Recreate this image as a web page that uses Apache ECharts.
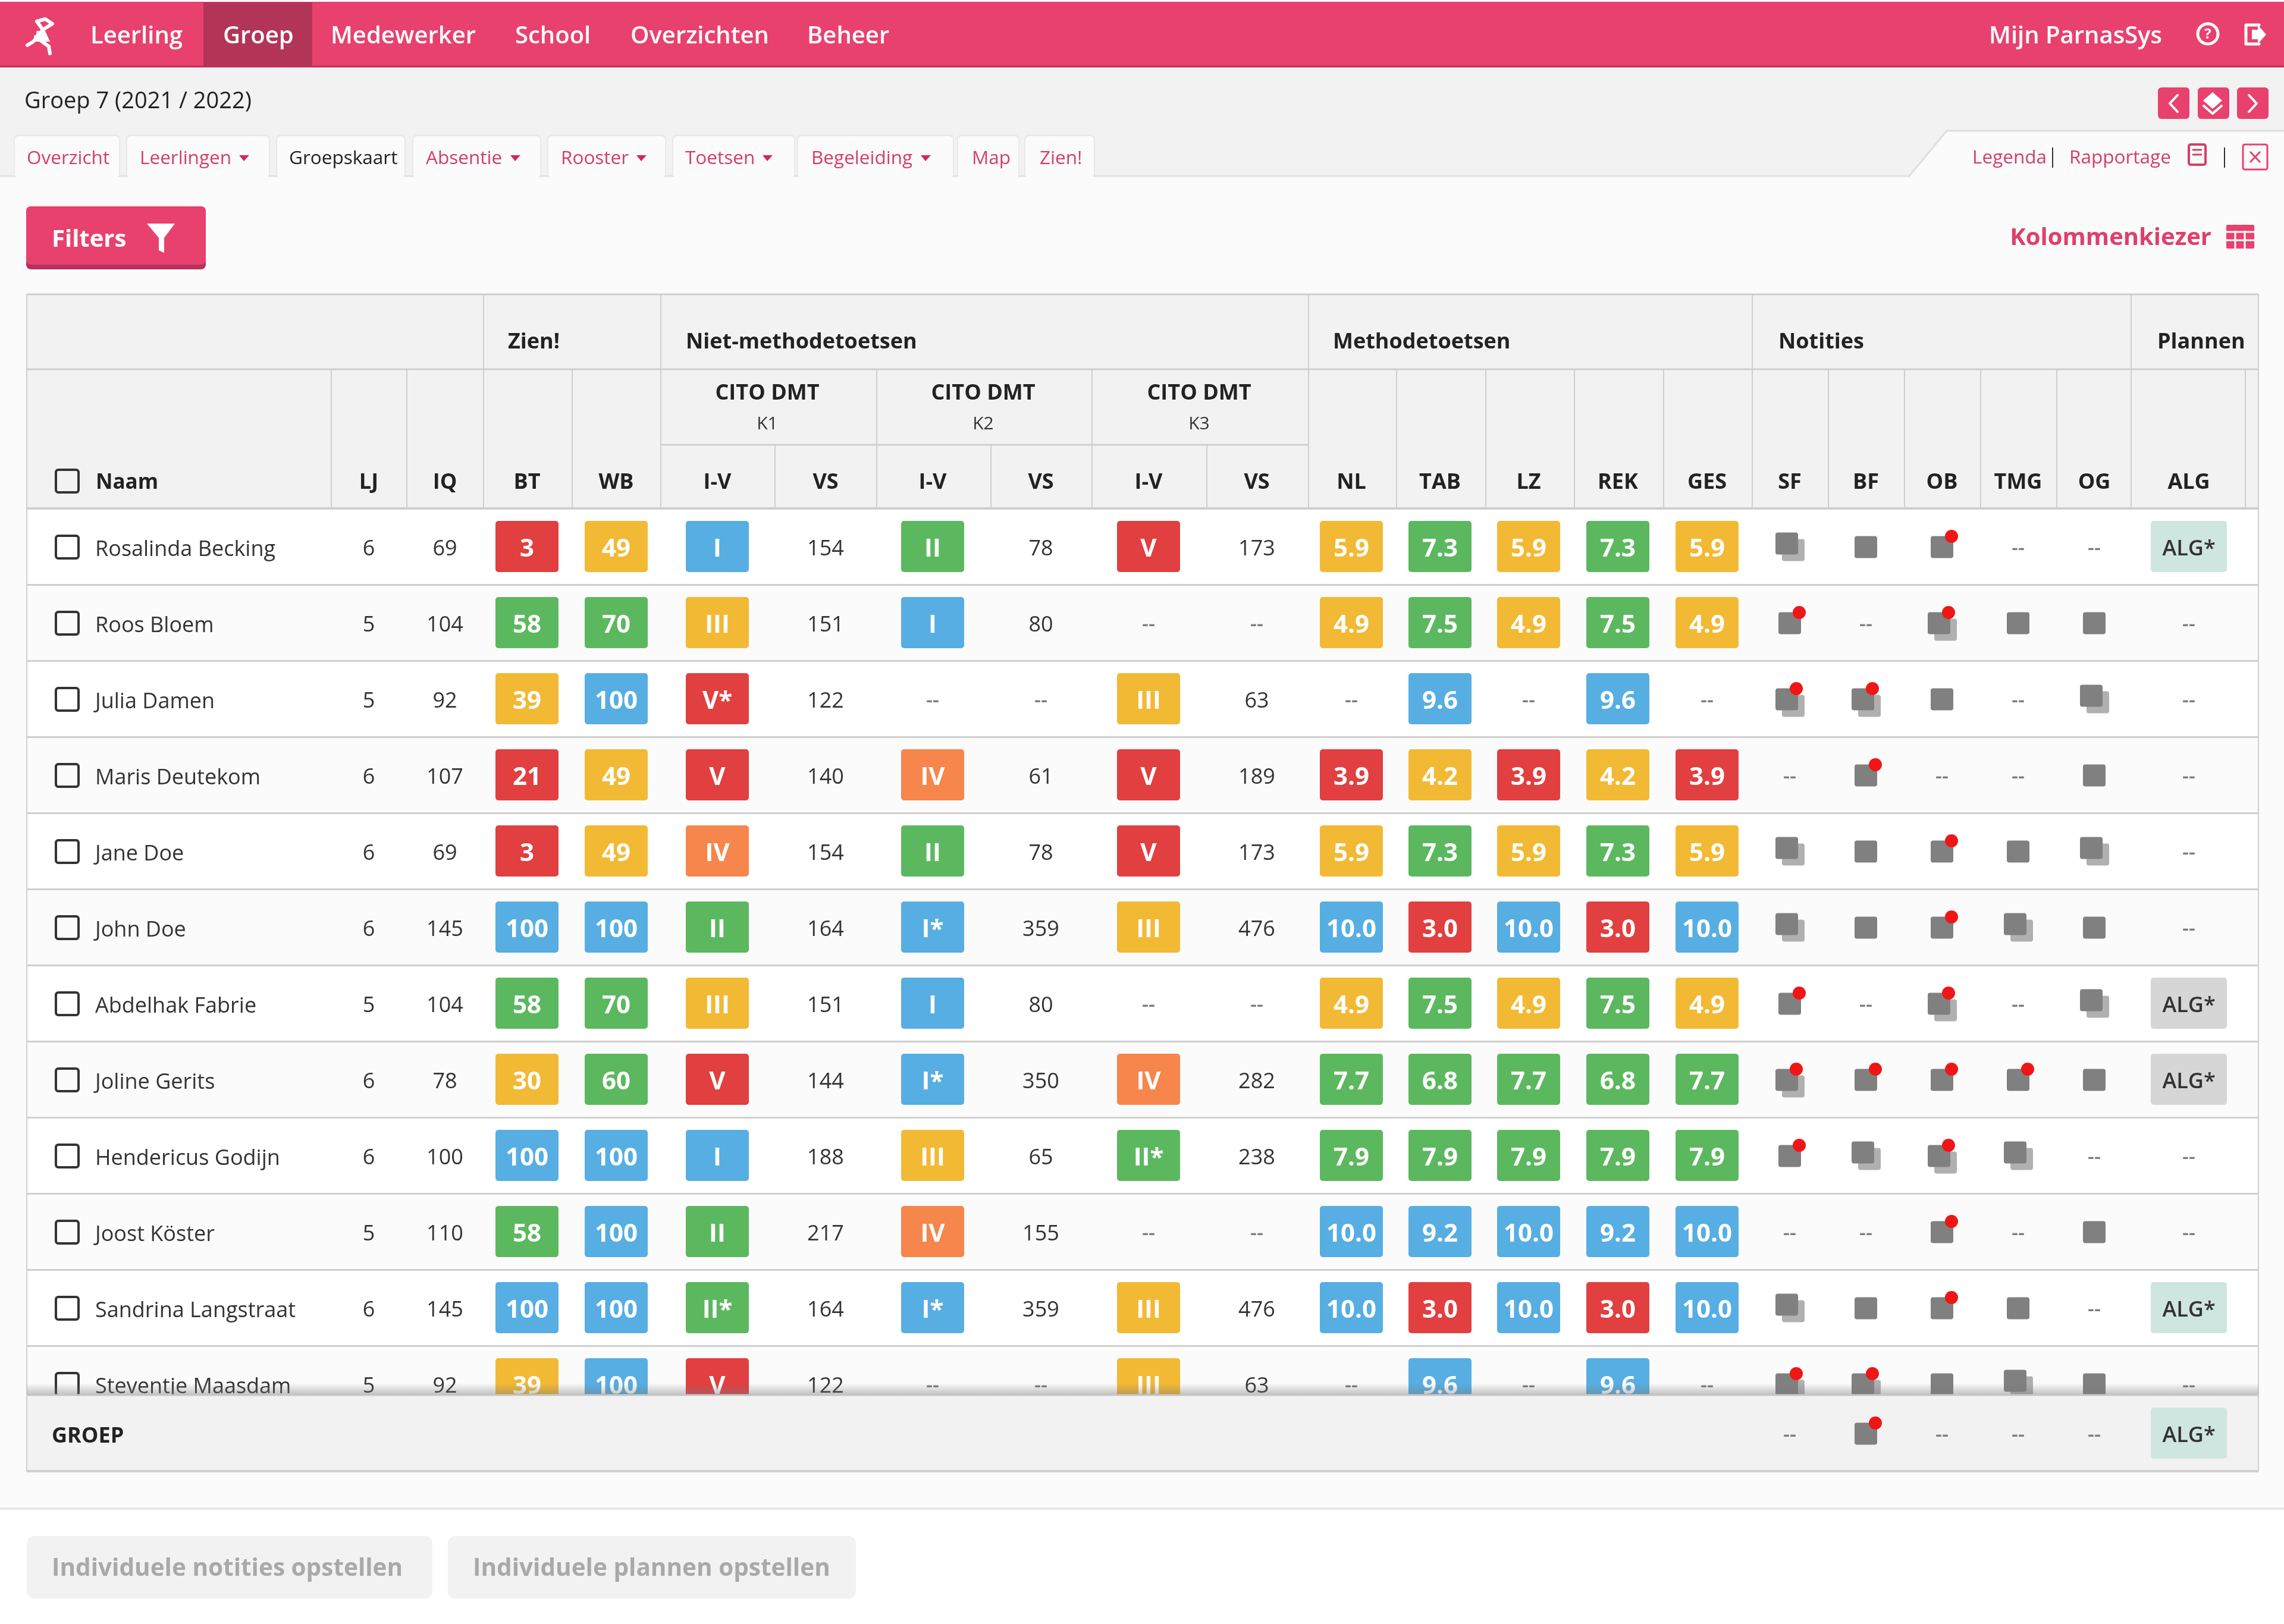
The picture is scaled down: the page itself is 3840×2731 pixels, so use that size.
<!DOCTYPE html>
<html><head><meta charset="utf-8"><title>Groepskaart</title>
<style>html,body{margin:0;padding:0;background:#fff}#c{width:3840px;height:2731px}</style>
<script src="https://cdn.jsdelivr.net/npm/echarts@6/dist/echarts.min.js"></script>
</head><body><div id="c"></div>
<script>
// ---------- DATA ----------
const names = ['Rosalinda Becking','Roos Bloem','Julia Damen','Maris Deutekom','Jane Doe','John Doe','Abdelhak Fabrie','Joline Gerits','Hendericus Godijn','Joost Köster','Sandrina Langstraat','Steventje Maasdam'];
const LJ  = [6,5,5,6,6,6,5,6,6,5,6,5];
const IQ  = [69,104,92,107,69,145,104,78,100,110,145,92];
const BT  = [3,58,39,21,3,100,58,30,100,58,100,39];
const WB  = [49,70,100,49,49,100,70,60,100,100,100,100];
const IV1 = ['I','III','V*','V','IV','II','III','V','I','II','II*','V'];
const VS1 = [154,151,122,140,154,164,151,144,188,217,164,122];
const IV2 = ['II','I','--','IV','II','I*','I','I*','III','IV','I*','--'];
const VS2 = [78,80,'--',61,78,359,80,350,65,155,359,'--'];
const IV3 = ['V','--','III','V','V','III','--','IV','II*','--','III','III'];
const VS3 = [173,'--',63,189,173,476,'--',282,238,'--',476,63];
const NL  = ['5.9','4.9','--','3.9','5.9','10.0','4.9','7.7','7.9','10.0','10.0','--'];
const TAB = ['7.3','7.5','9.6','4.2','7.3','3.0','7.5','6.8','7.9','9.2','3.0','9.6'];
const LZ  = ['5.9','4.9','--','3.9','5.9','10.0','4.9','7.7','7.9','10.0','10.0','--'];
const REK = ['7.3','7.5','9.6','4.2','7.3','3.0','7.5','6.8','7.9','9.2','3.0','9.6'];
const GES = ['5.9','4.9','--','3.9','5.9','10.0','4.9','7.7','7.9','10.0','10.0','--'];
// notes: - none, s single, d stacked, r single+flag, f stacked+flag
const SF  = ['d','r','f','-','d','d','r','f','r','-','d','f'];
const BF  = ['s','-','f','r','s','s','-','r','d','-','s','f'];
const OB  = ['r','f','s','-','r','r','f','r','f','r','r','s'];
const TMG = ['-','s','-','-','s','d','-','r','d','-','s','d'];
const OG  = ['-','s','d','s','d','s','d','s','-','s','-','s'];
const ALG = ['ALG*','--','--','--','--','--','ALG~','ALG~','--','--','ALG*','--'];
const footerLabel = ['GROEP'];
const footerNotes = {SF:'-',BF:'r',OB:'-',TMG:'-',OG:'-'};
const footerPlan = 'ALG*';

// ---------- LAYOUT / STYLE ----------
const FF = '"Open Sans","Noto Sans",sans-serif';
const PINK='#e8416e', PINKD='#b9305a', TXT='#333', LINE='#cfcfcf', HEAD='#f2f2f2', PAGE='#fbfbfb';
const center = {LJ:620,IQ:748,BT:886,WB:1036,IV1:1206,VS1:1388,IV2:1568,VS2:1750,IV3:1931,VS3:2113,NL:2272,TAB:2421,LZ:2570,REK:2720,GES:2870,SF:3009,BF:3137,OB:3265,TMG:3393,OG:3521,ALG:3680,CHECK:113};
const T={left:45,right:3797,top:495,tier2:621,tier3:748,rows:855,rowH:128,foot:2346,footEnd:2474};
const tone={red:'#e13f40',yellow:'#f2b934',green:'#5cb85f',blue:'#57aee2',orange:'#f6864b'};
const ivTone={I:tone.blue,II:tone.green,III:tone.yellow,IV:tone.orange,V:tone.red};
const scoreTone=v=> v<25?tone.red:v<50?tone.yellow:v<75?tone.green:tone.blue;
const gradeTone=v=> v<4?tone.red:v<6?tone.yellow:v<9?tone.green:tone.blue;

// ---------- CELLS ----------
const cells=[];
const add=(col,arr,kind,fn)=>arr.forEach((v,i)=>cells.push({x:center[col],y:i,v:String(v),kind:String(v)==='--'?'dash':kind,color:fn?fn(v):null}));
add('LJ',LJ,'num');add('IQ',IQ,'num');
add('BT',BT,'badge',scoreTone);add('WB',WB,'badge',scoreTone);
[[ 'IV1',IV1],['IV2',IV2],['IV3',IV3]].forEach(([c,a])=>add(c,a,'badge',v=>ivTone[String(v).replace('*','')]));
add('VS1',VS1,'num');add('VS2',VS2,'num');add('VS3',VS3,'num');
[['NL',NL],['TAB',TAB],['LZ',LZ],['REK',REK],['GES',GES]].forEach(([c,a])=>add(c,a,'badge',v=>gradeTone(parseFloat(v))));
[['SF',SF],['BF',BF],['OB',OB],['TMG',TMG],['OG',OG]].forEach(([c,a])=>a.forEach((v,i)=>cells.push({x:center[c],y:i,v,kind:'note'})));
ALG.forEach((v,i)=>cells.push({x:center.ALG,y:i,v,kind:v==='--'?'dash':'plan'}));
names.forEach((n,i)=>cells.push({x:center.CHECK,y:i,v:'',kind:'check'}));
const footCells=Object.keys(footerNotes).map(k=>({x:center[k],y:0,v:footerNotes[k],kind:'note'}));
footCells.push({x:center.ALG,y:0,v:footerPlan,kind:'plan'});

function txt(x,y,text,size,fill,weight){return {type:'text',style:{x,y:y+5,text,fontSize:size,fontFamily:FF,fontWeight:weight||400,fill,textAlign:'center',textVerticalAlign:'middle'}};}
function rr(x,y,w,h,r,fill,stroke,lw){return {type:'rect',shape:{x,y,width:w,height:h,r},style:stroke?{fill:'none',stroke,lineWidth:lw}:{fill}};}
const dash=p=>txt(p[0],p[1]-1,'--',34,'#7d7d7d',600);
function noteMarks(c,p){
  const k=[];const G='#808080',B='#b0b0b0',S=38,H=37;
  const box=(dx,dy,f)=>k.push(rr(p[0]+dx-S/2,p[1]+dy-H/2,S,H,4,f));
  if(c.v==='-'){k.push(dash(p));return k;}
  if(c.v==='s'||c.v==='r')box(0,1,G);
  if(c.v==='d'){box(6,6,B);box(-5,-5,G);}
  if(c.v==='f'){box(6,12,B);box(-5,1,G);}
  if(c.v==='r'||c.v==='f'){const dx=c.v==='r'?16:11;k.push({type:'circle',shape:{cx:p[0]+dx,cy:p[1]-17,r:11},style:{fill:'#f01616'}});}
  return k;
}
function drawCell(list){return function(params,api){
  const c=list[params.dataIndex];const p=api.coord([api.value(0),api.value(1)]);let ch=[];
  if(c.kind==='num')ch=[txt(p[0],p[1],c.v,36,TXT)];
  else if(c.kind==='dash')ch=[dash(p)];
  else if(c.kind==='badge')ch=[rr(p[0]-53,p[1]-43,106,86,5,c.color),txt(p[0],p[1],c.v,42,'#fff',700)];
  else if(c.kind==='plan')ch=[rr(p[0]-64,p[1]-43,128,86,5,c.v==='ALG*'?'#cfe5e0':'#d6d6d6'),txt(p[0],p[1],'ALG*',36,'#333',600)];
  else if(c.kind==='note')ch=noteMarks(c,p);
  else if(c.kind==='check')ch=[rr(p[0]-19,p[1]-18,38,38,4,null,'#333',4)];
  return {type:'group',children:ch};
};}

// ---------- PAGE CHROME ----------
const g=[];
const R=(x,y,w,h,fill,z,r)=>g.push({type:'rect',shape:{x,y,width:w,height:h,r:r||0},style:{fill},z:z||0,silent:true});
const L=(x1,y1,x2,y2,c,w,z)=>g.push({type:'line',shape:{x1,y1,x2,y2},style:{stroke:c,lineWidth:w||2},z:z||1,silent:true});
const Tx=(x,y,t,size,fill,weight,align,z)=>g.push({type:'text',style:{x,y:y+3,text:t,fontSize:size,fontFamily:FF,fontWeight:weight||400,fill,textAlign:align||'left',textVerticalAlign:'middle'},z:z||3,silent:true});
const Poly=(pts,fill,z)=>g.push({type:'polygon',shape:{points:pts},style:{fill},z:z||3,silent:true});
const PL=(pts,stroke,w,z)=>g.push({type:'polyline',shape:{points:pts},style:{stroke,lineWidth:w,fill:'none',lineCap:'round',lineJoin:'round'},z:z||3,silent:true});

R(0,0,3840,2731,'#ffffff',-20);
R(0,115,3840,182,HEAD,-19);
R(0,297,3840,2240,PAGE,-19);
L(0,2537,3840,2537,'#e6e6e6',4,-18);
// nav
R(0,3,3840,109,PINK,-10);L(0,112,3840,112,'#c32a57',3,-9);
R(342,4,183,107,'#b23558',-9);
[['Leerling',152],['Groep',375],['Medewerker',556],['School',866],['Overzichten',1060],['Beheer',1357]].forEach(a=>Tx(a[1],59,a[0],40,'#fff',600));
Tx(3635,59,'Mijn ParnasSys',40,'#fff',600,'right');
g.push({type:'circle',shape:{cx:3712,cy:57,r:17},style:{fill:'none',stroke:'#fff',lineWidth:5},z:3,silent:true});
Tx(3712,55,'?',24,'#fff',700,'center');
PL([[3798,42],[3776,42],[3776,74],[3798,74]],'#fff',5);Poly([[3786,50],[3796,50],[3796,42],[3810,58],[3796,74],[3796,66],[3786,66]],'#fff');
// logo
PL([[62,36],[72,50],[56,70],[46,76]],'#fff',6);PL([[72,50],[88,40],[76,32],[62,36]],'#fff',6);PL([[60,62],[82,78],[84,90]],'#fff',6);Poly([[62,52],[76,52],[84,70],[58,70]],'#fff');
// title row
Tx(41,168,'Groep 7 (2021 / 2022)',38,'#222');
[3628,3695,3761].forEach(x=>{R(x,147,53,53,PINK,2,6);});
PL([[3661,160],[3648,174],[3661,188]],'#fff',4);PL([[3781,160],[3794,174],[3781,188]],'#fff',4);
Poly([[3720,155],[3736,169],[3720,183],[3704,169]],'#fff');PL([[3705,178],[3720,191],[3735,178]],'#fff',4);
// tabs
const tabs=[['Overzicht',25,200,45,0],['Leerlingen',214,452,235,402],['Groepskaart',466,680,486,0],['Absentie',695,908,716,858],['Rooster',922,1118,943,1070],['Toetsen',1132,1335,1152,1282],['Begeleiding',1342,1602,1364,1548],['Map',1611,1712,1634,0],['Zien!',1724,1839,1748,0]];
L(0,296,3209,296,'#e2e2e2',3,-15);
tabs.forEach(t=>{R(t[1]-2,226,t[2]-t[1]+4,72,'#e9e9e9',-14,8);R(t[1],229,t[2]-t[1],70,PAGE,-13,6);
  Tx(t[3],264,t[0],31.5,t[0]==='Groepskaart'?'#222':'#d33f69',500);
  if(t[4])Poly([[t[4],261],[t[4]+17,261],[t[4]+8,271]],'#d8245f');});
Poly([[3209,297],[3273,220],[3840,220],[3840,297]],PAGE,-14);
PL([[3209,297],[3273,220],[3840,220]],'#dedede',3,-13);
Tx(3316,263,'Legenda',31.5,'#d33f69',500);L(3451,248,3451,282,'#333',2,3);
Tx(3479,263,'Rapportage',31.5,'#d33f69',500);
g.push({type:'rect',shape:{x:3680,y:243,width:28,height:34,r:3},style:{fill:'none',stroke:'#d33f69',lineWidth:4},z:3,silent:true});
L(3686,252,3702,252,'#d33f69',3,3);L(3686,260,3702,260,'#d33f69',3,3);
L(3740,248,3740,282,'#333',2,3);
g.push({type:'rect',shape:{x:3771,y:243,width:41,height:42,r:3},style:{fill:'none',stroke:PINK,lineWidth:3},z:3,silent:true});
L(3783,255,3800,273,PINK,3,3);L(3800,255,3783,273,PINK,3,3);
// filters
R(44,347,302,106,PINKD,1,8);R(44,347,302,98,PINK,2,8);
Tx(87,401,'Filters',40,'#fff',700);
Poly([[247,376],[294,376],[276,400],[276,425],[267,421],[267,400]],'#fff');
Tx(3718,398,'Kolommenkiezer',40,'#df3f6b',700,'right');
R(3743,378,47,40,PINK,2,2);
[3758,3774].forEach(x=>L(x,388,x,418,'#fff',3,3));[390,404].forEach(y=>L(3743,y,3790,y,'#fff',3,3));
// table header
R(T.left,T.top,T.right-T.left,T.rows-T.top,HEAD,-5);
L(T.left,T.top,T.right,T.top,LINE,3);L(T.left,T.tier2,T.right,T.tier2,LINE,3);L(1111,T.tier3,2200,T.tier3,LINE,3);L(T.left,T.rows,T.right,T.rows,LINE,4);
[813,1111,2200,2946,3583].forEach(x=>L(x,T.top,x,T.tier2,LINE,2));
[557,684,813,962,1111,1474,1836,2200,2348,2498,2647,2797,2946,3074,3202,3330,3458,3583,3775].forEach(x=>L(x,T.tier2,x,T.rows,LINE,2));
[1303,1666,2029].forEach(x=>L(x,T.tier3,x,T.rows,LINE,2));
L(T.left,T.top,T.left,T.footEnd,LINE,2,1);L(T.right,T.top,T.right,T.footEnd,LINE,2,1);
[['Zien!',854],['Niet-methodetoetsen',1153],['Methodetoetsen',2241],['Notities',2990],['Plannen',3627]].forEach(a=>Tx(a[1],573,a[0],36,'#222',700));
[['K1',1290],['K2',1653],['K3',2016]].forEach(a=>{Tx(a[1],659,'CITO DMT',36,'#222',700,'center');Tx(a[1],710,a[0],30,'#333',400,'center');});
Tx(161,809,'Naam',35,'#222',700);
g.push({type:'rect',shape:{x:94,y:790,width:38,height:38,r:4},style:{fill:'none',stroke:'#333',lineWidth:4},z:3,silent:true});
[['LJ','LJ'],['IQ','IQ'],['BT','BT'],['WB','WB'],['I-V','IV1'],['VS','VS1'],['I-V','IV2'],['VS','VS2'],['I-V','IV3'],['VS','VS3'],['NL','NL'],['TAB','TAB'],['LZ','LZ'],['REK','REK'],['GES','GES'],['SF','SF'],['BF','BF'],['OB','OB'],['TMG','TMG'],['OG','OG'],['ALG','ALG']].forEach(a=>Tx(center[a[1]],809,a[0],36,'#222',700,'center'));
// footer cover
g.push({type:'rect',shape:{x:T.left,y:2326,width:T.right-T.left,height:20},style:{fill:{type:'linear',x:0,y:0,x2:0,y2:1,colorStops:[{offset:0,color:'rgba(120,120,120,0)'},{offset:1,color:'rgba(120,120,120,0.45)'}]}},z:50,silent:true});
R(0,2346,T.left-1,128,PAGE,50);R(T.right+1,2346,43,128,PAGE,50);
R(T.left,2346,T.right-T.left,128,HEAD,50);
L(T.left,2346,T.right,2346,'#c6c6c6',3,51);L(T.left,2474,T.right,2474,LINE,4,51);
L(T.left,2346,T.left,2474,LINE,2,51);L(T.right,2346,T.right,2474,LINE,2,51);
R(T.left-1,2476,T.right-T.left+2,20,PAGE,50);
// bottom buttons
R(45,2583,682,105,'#f2f2f2',2,12);R(753,2583,686,105,'#f2f2f2',2,12);
Tx(87,2635,'Individuele notities opstellen',40.5,'#a9a9a9',700);Tx(795,2635,'Individuele plannen opstellen',40.5,'#a9a9a9',700);

// ---------- CHART ----------
const chart=echarts.init(document.getElementById('c'),null,{renderer:'canvas',width:3840,height:2731});
const xAx=i=>({type:'value',gridIndex:i,min:T.left,max:T.right,show:false});
chart.setOption({
  animation:false,backgroundColor:'transparent',
  grid:[
    {left:T.left,width:T.right-T.left,top:T.rows,height:T.rowH*names.length},
    {left:T.left,width:T.right-T.left,top:T.foot,height:T.footEnd-T.foot}
  ],
  xAxis:[xAx(0),xAx(1)],
  yAxis:[
    {type:'category',gridIndex:0,inverse:true,data:names,z:0,
     axisLine:{show:false},axisTick:{show:false},
     axisLabel:{inside:true,margin:115,formatter:'{n|{value}}',rich:{n:{fontSize:36,fontFamily:FF,color:TXT,padding:[12,0,0,0]}}},
     splitLine:{show:true,lineStyle:{color:LINE,width:3}},
     splitArea:{show:true,areaStyle:{color:['#ffffff','#fbfbfb']}}},
    {type:'category',gridIndex:1,inverse:true,data:footerLabel,z:60,
     axisLine:{show:false},axisTick:{show:false},splitLine:{show:false},
     axisLabel:{inside:true,margin:42,formatter:'{n|{value}}',rich:{n:{fontSize:36,fontWeight:700,fontFamily:FF,color:'#222',padding:[12,0,0,0]}}}}
  ],
  graphic:{elements:g},
  series:[
    {type:'custom',name:'Leerlingen',xAxisIndex:0,yAxisIndex:0,z:5,silent:true,clip:false,
     encode:{x:0,y:1},data:cells.map(c=>[c.x,c.y]),renderItem:drawCell(cells)},
    {type:'custom',name:'Groep',xAxisIndex:1,yAxisIndex:1,z:60,silent:true,clip:false,
     encode:{x:0,y:1},data:footCells.map(c=>[c.x,c.y]),renderItem:drawCell(footCells)}
  ]
});
</script></body></html>
